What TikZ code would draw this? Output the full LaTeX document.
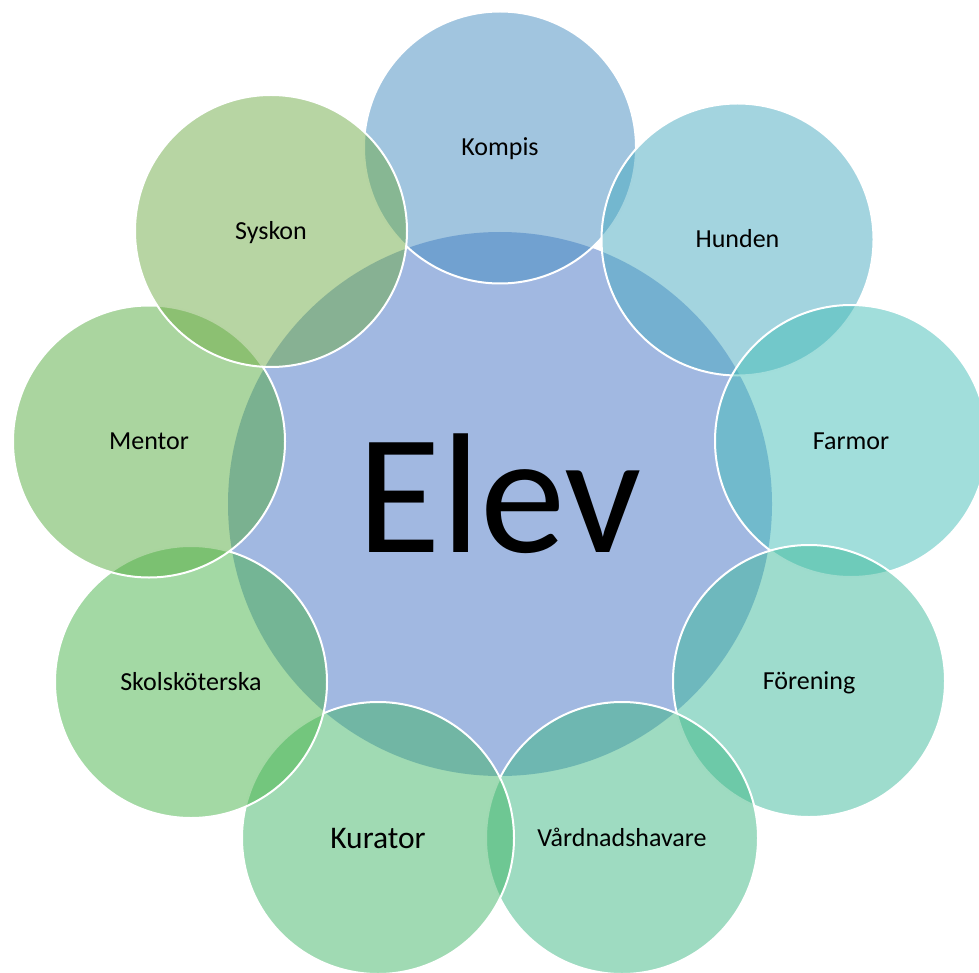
\documentclass[tikz,border=0pt]{standalone}
\usepackage{fontspec}
\setmainfont{Carlito}
\usetikzlibrary{calc}
\definecolor{cHub}{HTML}{4472C4}
\definecolor{cKompis}{HTML}{438BBF}
\definecolor{cHunden}{HTML}{47A9BF}
\definecolor{cFarmor}{HTML}{43BDB7}
\definecolor{cForening}{HTML}{3DB99B}
\definecolor{cVard}{HTML}{3DB783}
\definecolor{cKurator}{HTML}{41B567}
\definecolor{cSkol}{HTML}{47B349}
\definecolor{cMentor}{HTML}{55AB3F}
\definecolor{cSyskon}{HTML}{6FAB47}
\begin{document}
\begin{tikzpicture}[x=1pt,y=-1pt,
  hub/.style={circle, minimum size=544pt, inner sep=0pt, fill=cHub, fill opacity=0.5, draw=none},
  petal/.style={circle, minimum size=272pt, inner sep=0pt, fill opacity=0.5, draw=white, line width=2pt},
  lbl/.style={anchor=base, inner sep=0pt, text=black, font=\fontsize{26}{30}\selectfont},
  biglbl/.style={anchor=base, inner sep=0pt, text=black, font=\fontsize{31.5}{36}\selectfont},
  hublbl/.style={anchor=base, inner sep=0pt, text=black, font=\fontsize{171}{190}\selectfont}]
\useasboundingbox (0,0) rectangle (979,973);
\node[hub] (hub) at (500,504) {};
\node[petal, fill=cKompis]   (kompis)  at (500,147.5) {};
\node[petal, fill=cHunden]   (hunden)  at (737.5,239.5) {};
\node[petal, fill=cFarmor]   (farmor)  at (851,441) {};
\node[petal, fill=cForening] (forening) at (809,681) {};
\node[petal, fill=cVard]     (vard)    at (622,838) {};
\node[petal, fill=cKurator]  (kurator) at (378,838) {};
\node[petal, fill=cSkol]     (skol)    at (191,682) {};
\node[petal, fill=cMentor]   (mentor)  at (149,441.5) {};
\node[petal, fill=cSyskon]   (syskon)  at (271,231) {};
\node[hublbl] (tHub) at ($(hub)+(0,48)$) {Elev};
\node[lbl] (tKompis)  at ($(kompis)+(0,8.2)$) {Kompis};
\node[lbl] (tHunden)  at ($(hunden)+(0,8.2)$) {Hunden};
\node[lbl] (tFarmor)  at ($(farmor)+(0,8.2)$) {Farmor};
\node[lbl] (tForening) at ($(forening)+(0,8.2)$) {Förening};
\node[lbl] (tVard)    at ($(vard)+(0,8.2)$) {Vårdnadshavare};
\node[biglbl] (tKurator) at ($(kurator)+(0,10)$) {Kurator};
\node[lbl] (tSkol)    at ($(skol)+(0,8.2)$) {Skolsköterska};
\node[lbl] (tMentor)  at ($(mentor)+(0,8.2)$) {Mentor};
\node[lbl] (tSyskon)  at ($(syskon)+(0,8.2)$) {Syskon};
\end{tikzpicture}
\end{document}
